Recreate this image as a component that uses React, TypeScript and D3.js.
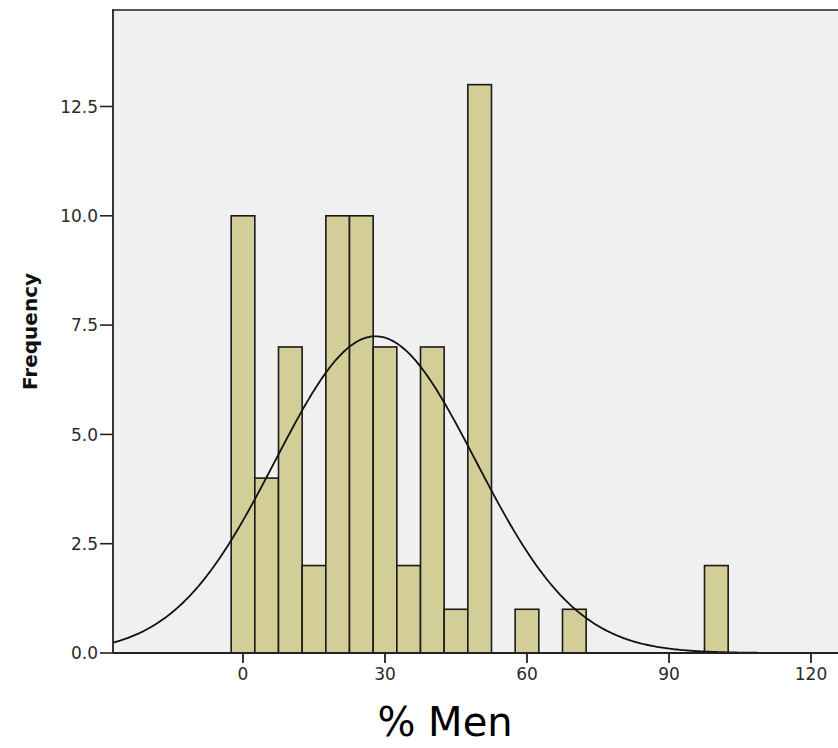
import React from "react";
import * as d3 from "d3";

const binCenters = [0, 5, 10, 15, 20, 25, 30, 35, 40, 45, 50, 55, 60, 65, 70, 75, 80, 85, 90, 95, 100];
const binCounts = [10, 4, 7, 2, 10, 10, 7, 2, 7, 1, 13, 0, 1, 0, 1, 0, 0, 0, 0, 0, 2];
const binWidth = 5;
const xTicks = [0, 30, 60, 90, 120];
const yTicks = [0, 2.5, 5, 7.5, 10, 12.5];
const xTitle = "% Men";
const yTitle = "Frequency";

const W = 838;
const H = 748;
const plotLeft = 113;
const plotRight = 838;
const plotTop = 10;
const plotBottom = 653;

export default function App() {
  const x = d3.scaleLinear().domain([0, 120]).range([243, 811]);
  const y = d3.scaleLinear().domain([0, 12.5]).range([plotBottom, 106.5]);

  // normal curve from the data
  const expanded: number[] = [];
  binCenters.forEach((c, i) => {
    for (let k = 0; k < binCounts[i]; k++) expanded.push(c);
  });
  const n = expanded.length;
  const mu = d3.mean(expanded) as number;
  const sd = d3.deviation(expanded) as number;
  const xMin = x.invert(plotLeft);
  const xMax = x.invert(plotRight);
  const pts = d3.range(0, 401).map((i) => xMin + ((xMax - xMin) * i) / 400);
  const dens = (v: number) =>
    (n * binWidth) / (sd * Math.sqrt(2 * Math.PI)) * Math.exp(-0.5 * ((v - mu) / sd) ** 2);
  const line = d3
    .line<number>()
    .x((v) => x(v))
    .y((v) => y(dens(v)))
    .curve(d3.curveLinear);

  const font = "'DejaVu Sans', 'Liberation Sans', Arial, sans-serif";

  return (
    <svg width={W} height={H} style={{ position: "absolute", left: 0, top: 0 }}>
      <rect x={0} y={0} width={W} height={H} fill="#ffffff" />
      <defs>
        <clipPath id="plotclip">
          <rect x={plotLeft} y={plotTop} width={plotRight - plotLeft} height={plotBottom - plotTop} />
        </clipPath>
      </defs>
      <rect
        x={plotLeft}
        y={plotTop}
        width={plotRight - plotLeft}
        height={plotBottom - plotTop}
        fill="#f0f0f0"
      />
      <g clipPath="url(#plotclip)">
        {binCenters.map((c, i) =>
          binCounts[i] > 0 ? (
            <rect
              key={i}
              x={x(c - binWidth / 2)}
              y={y(binCounts[i])}
              width={x(c + binWidth / 2) - x(c - binWidth / 2)}
              height={y(0) - y(binCounts[i])}
              fill="#d3ce97"
              stroke="#1a1a1a"
              strokeWidth={1.6}
            />
          ) : null
        )}
        <path d={line(pts) || ""} fill="none" stroke="#111" strokeWidth={1.8} />
      </g>
      {/* top border */}
      <line x1={plotLeft} x2={plotRight} y1={plotTop} y2={plotTop} stroke="#555" strokeWidth={2} />
      {/* axes */}
      <line x1={plotLeft} x2={plotLeft} y1={plotTop - 1} y2={plotBottom} stroke="#222" strokeWidth={1.8} />
      <line x1={plotLeft} x2={plotRight} y1={plotBottom} y2={plotBottom} stroke="#222" strokeWidth={1.8} />
      {yTicks.map((t) => (
        <g key={t}>
          <line x1={100} x2={plotLeft} y1={y(t)} y2={y(t)} stroke="#222" strokeWidth={1.6} />
          <text
            x={98}
            y={y(t)}
            dy="0.36em"
            textAnchor="end"
            fontFamily={font}
            fontSize={17}
            fill="#2a2a2a"
          >
            {t.toFixed(1)}
          </text>
        </g>
      ))}
      {xTicks.map((t) => (
        <g key={t}>
          <line x1={x(t)} x2={x(t)} y1={plotBottom} y2={plotBottom + 10} stroke="#222" strokeWidth={1.8} />
          <text
            x={x(t)}
            y={680}
            textAnchor="middle"
            fontFamily={font}
            fontSize={17}
            fill="#2a2a2a"
          >
            {t}
          </text>
        </g>
      ))}
      <text
        transform={`translate(37, ${(plotTop + plotBottom) / 2}) rotate(-90)`}
        textAnchor="middle"
        fontFamily={font}
        fontSize={20}
        fontWeight="bold"
        fill="#111"
      >
        {yTitle}
      </text>
      <text x={445} y={736} textAnchor="middle" fontFamily={font} fontSize={40} fill="#000">
        {xTitle}
      </text>
    </svg>
  );
}
